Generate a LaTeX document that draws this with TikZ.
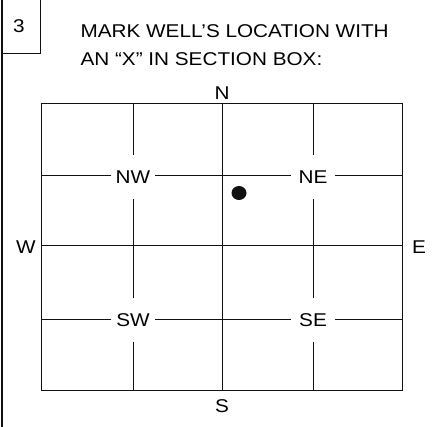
\documentclass[tikz,border=0pt]{standalone}
\usepackage{fontspec}
\setmainfont{Liberation Sans}[FakeStretch=1.12]
\definecolor{Ink}{HTML}{111111}

\begin{document}
\begin{tikzpicture}[x=1pt,y=-1pt,font=\fontsize{18.5}{21}\selectfont]
      \useasboundingbox[fill=white] (0,0) rectangle (437,427);
      % frame and item number
      \draw[Ink,line width=1.6pt] (2,0) -- (2,427);
      \draw[Ink,line width=0.9pt] (2,53) -- (40,53) -- (40,0);
      \node[anchor=base] (num) at (19,33) {3};
      \node[anchor=base west] (title1) at (77,38) {MARK WELL’S LOCATION WITH};
      \node[anchor=base west] (title2) at (77,66) {AN “X” IN SECTION BOX:};
      % section box with grid
      \draw[Ink,line width=1pt] (41,104) rectangle (402,391);
      \draw[Ink,line width=1pt] (41,176) -- (402,176) (41,246) -- (402,246) (41,320) -- (402,320);
      \draw[Ink,line width=1pt] (133,104) -- (133,391) (222,104) -- (222,391) (313,104) -- (313,391);
      \node[fill=white,inner sep=0pt,minimum width=44pt,minimum height=44pt] (nw) at (133,177) {NW};
      \node[fill=white,inner sep=0pt,minimum width=44pt,minimum height=44pt] (ne) at (313,177) {NE};
      \node[fill=white,inner sep=0pt,minimum width=44pt,minimum height=44pt] (sw) at (133,320) {SW};
      \node[fill=white,inner sep=0pt,minimum width=44pt,minimum height=44pt] (se) at (313,320) {SE};
      \node[anchor=base] (n) at (222,100) {N};
      \node[anchor=base] (s) at (222,413) {S};
      \node[anchor=base] (w) at (26,254) {W};
      \node[anchor=base] (e) at (419,254) {E};
      % well location
      \fill[Ink] (239,193) ellipse (7.5pt and 7pt);
    \end{tikzpicture}
\end{document}
